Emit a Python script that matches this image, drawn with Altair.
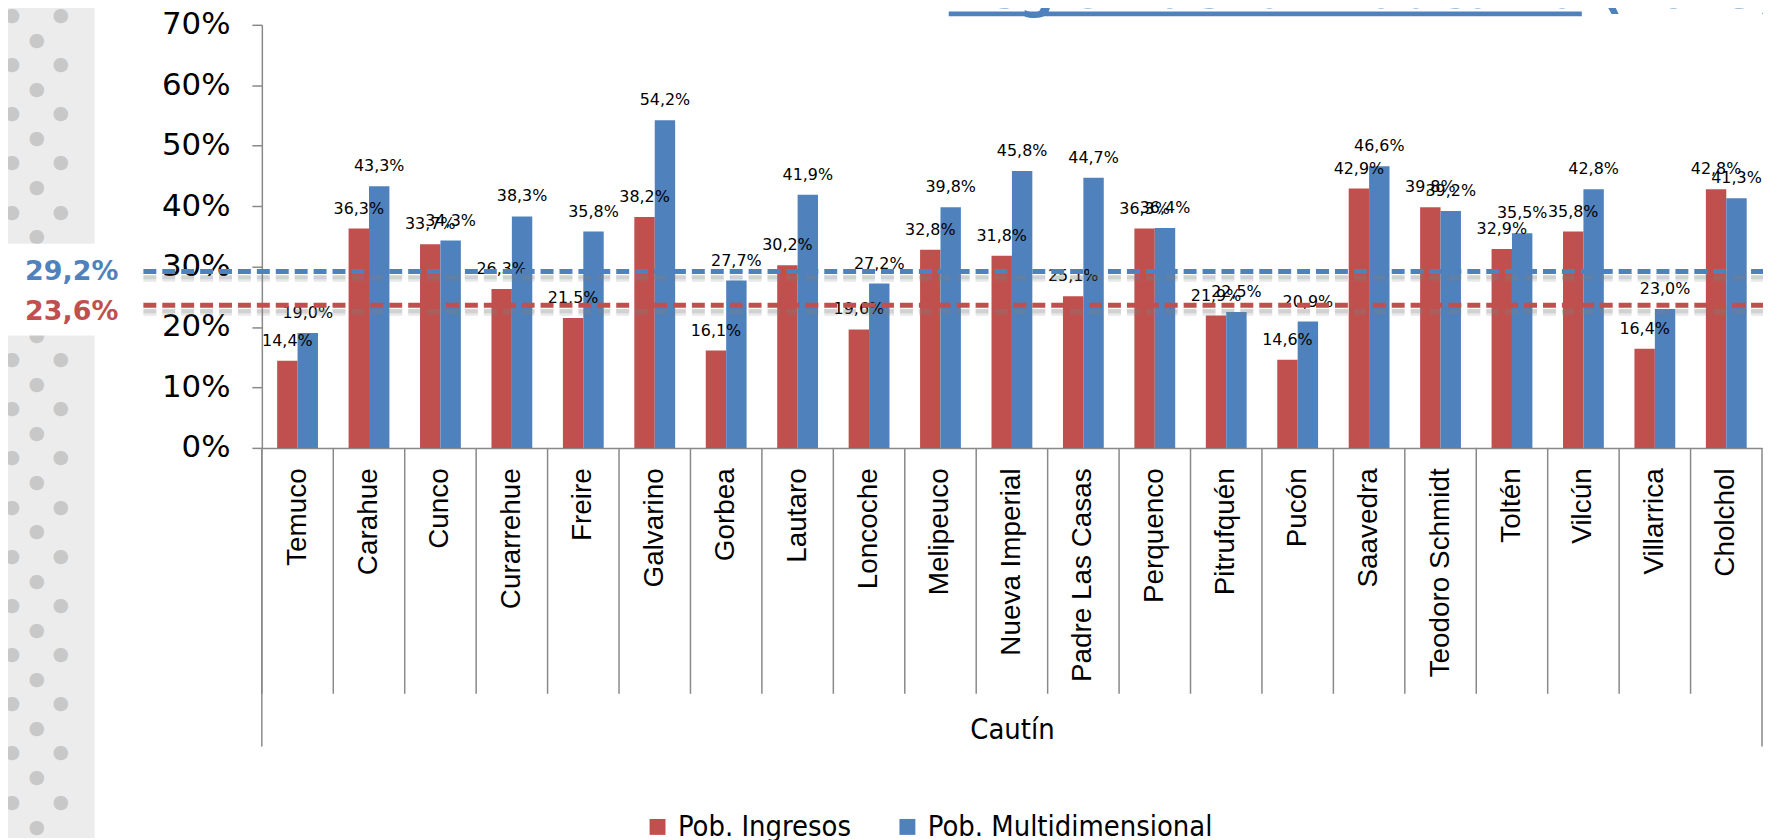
import altair as alt
import pandas as pd

# ---------------- data ----------------
comunas = ["Temuco", "Carahue", "Cunco", "Curarrehue", "Freire", "Galvarino",
           "Gorbea", "Lautaro", "Loncoche", "Melipeuco", "Nueva Imperial",
           "Padre Las Casas", "Perquenco", "Pitrufquén", "Pucón", "Saavedra",
           "Teodoro Schmidt", "Toltén", "Vilcún", "Villarrica", "Cholchol"]
pob_ingresos = [14.4, 36.3, 33.7, 26.3, 21.5, 38.2, 16.1, 30.2, 19.6, 32.8, 31.8,
                25.1, 36.3, 21.9, 14.6, 42.9, 39.8, 32.9, 35.8, 16.4, 42.8]
pob_multi = [19.0, 43.3, 34.3, 38.3, 35.8, 54.2, 27.7, 41.9, 27.2, 39.8, 45.8,
             44.7, 36.4, 22.5, 20.9, 46.6, 39.2, 35.5, 42.8, 23.0, 41.3]
series = ["Pob. Ingresos", "Pob. Multidimensional"]
colors = ["#C0504D", "#4F81BD"]
promedio_regional = [23.6, 29.2]          # Ingresos, Multidimensional
y_ticks = [0, 10, 20, 30, 40, 50, 60, 70]
provincia = "Cautín"
titulo = "Región de la Araucanía"
anio = "(2015)"

# ---------------- layout ----------------
W, H = 1507, 425
PAD_L, PAD_T, PAD_R, PAD_B = 255, 15, 1, 392
AXIS_GRAY = "#898989"


def pct(v):
    return f"{v:.1f}".replace(".", ",") + "%"


rows = []
for c, a, b in zip(comunas, pob_ingresos, pob_multi):
    rows.append({"Comuna": c, "Serie": series[0], "value": a / 100, "label": pct(a)})
    rows.append({"Comuna": c, "Serie": series[1], "value": b / 100, "label": pct(b)})
df = pd.DataFrame(rows)
one = pd.DataFrame({"a": [0]})

yscale = alt.Scale(domain=[0, 0.7], nice=False, zero=True)
xscale = alt.Scale(paddingInner=0, paddingOuter=0)

x_axis = alt.Axis(
    labelAngle=-90, labelAlign="right", labelBaseline="middle",
    labelFont="Liberation Sans", labelFontSize=28, labelColor="black",
    labelPadding=20, labelLimit=400, labelOverlap=False,
    ticks=False, tickSize=0, domainColor=AXIS_GRAY, domainWidth=1.5,
    title=provincia, titleFont="DejaVu Sans Condensed, DejaVu Sans",
    titleFontSize=29, titleFontWeight="normal", titleColor="black",
    titleY=283, titleBaseline="middle", grid=False,
)
y_axis = alt.Axis(
    values=[t / 100 for t in y_ticks], format=".0%",
    labelFont="DejaVu Sans", labelFontSize=31, labelColor="black",
    labelPadding=22, tickSize=10, tickColor=AXIS_GRAY, tickWidth=1.5,
    domainColor=AXIS_GRAY, domainWidth=1.5, grid=False, title=None,
)

XO = alt.XOffset("Serie:N", sort=series, scale=alt.Scale(paddingOuter=0.75, paddingInner=0))

# ---------------- bars, labels, separators ----------------
bars = alt.Chart(df).mark_bar().encode(
    x=alt.X("Comuna:N", sort=comunas, scale=xscale, axis=x_axis),
    xOffset=XO,
    y=alt.Y("value:Q", scale=yscale, axis=y_axis),
    color=alt.Color("Serie:N", sort=series,
                    scale=alt.Scale(domain=series, range=colors),
                    legend=alt.Legend(orient="none", legendX=383, legendY=791,
                                      direction="horizontal", title=None,
                                      symbolType="square", symbolSize=256,
                                      symbolStrokeWidth=0, symbolOpacity=1,
                                      labelFont="DejaVu Sans Condensed, DejaVu Sans",
                                      labelFontSize=29, labelColor="black",
                                      labelOffset=6, columnPadding=42, padding=0,
                                      labelLimit=400)),
)
labels = alt.Chart(df).mark_text(dy=-15, baseline="alphabetic", fontSize=16,
                                 font="DejaVu Sans", color="black").encode(
    x=alt.X("Comuna:N", sort=comunas, scale=xscale),
    xOffset=XO,
    y=alt.Y("value:Q", scale=yscale),
    text="label:N",
)
seps = alt.Chart(pd.DataFrame({"Comuna": comunas})).mark_rule(color=AXIS_GRAY, strokeWidth=1.5).encode(
    x=alt.X("Comuna:N", sort=comunas, scale=xscale, bandPosition=0),
    y=alt.value(H), y2=alt.value(H + 247),
)
outer_l = alt.Chart(one).mark_rule(color=AXIS_GRAY, strokeWidth=1.5).encode(
    x=alt.value(0), y=alt.value(H), y2=alt.value(H + 300))
outer_r = alt.Chart(one).mark_rule(color=AXIS_GRAY, strokeWidth=1.5).encode(
    x=alt.value(W), y=alt.value(H), y2=alt.value(H + 300))

# ---------------- decorations: left dotted strip ----------------
strip = alt.Chart(one).mark_rect(color="#ECECEC").encode(
    x=alt.value(-PAD_L - 8), x2=alt.value(95 - 263),
    y=alt.value(-PAD_T - 8), y2=alt.value(840 - 23),
)
DOT = "\u25CF"
dot_layers = []
for px, y0 in ((12, 18 - 49.4), (37, 43 - 49.4), (61, 18 - 49.4)):
    n = 19
    dot_layers.append(
        alt.Chart(one).mark_text(font="DejaVu Sans", fontSize=19, color="#C8C8C8",
                                 align="center", baseline="top", lineBreak="\n",
                                 lineHeight=49.4).encode(
            x=alt.value(px - 263), y=alt.value(y0 - 23 - 14),
            text=alt.value("\n".join([DOT] * n)))
    )
white_box = alt.Chart(one).mark_rect(color="white").encode(
    x=alt.value(3 - 263), x2=alt.value(143 - 263),
    y=alt.value(243 - 23), y2=alt.value(335 - 23),
)

# ---------------- regional averages ----------------
avg_layers = []
label_dy = [7, 1]
for v, c, dy in zip(promedio_regional, colors, label_dy):
    d = pd.DataFrame({"value": [v / 100], "label": [pct(v)]})
    yv = alt.Y("value:Q", scale=yscale)
    avg_layers.append(alt.Chart(d).mark_rule(strokeDash=[13, 6], strokeWidth=7, color="#808080",
                                             opacity=0.18, yOffset=7).encode(
        y=yv, x=alt.value(144 - 263), x2=alt.value(1771 - 263)))
    avg_layers.append(alt.Chart(d).mark_rule(strokeDash=[13, 6], strokeWidth=4, color="#808080",
                                             opacity=0.22, yOffset=6).encode(
        y=yv, x=alt.value(144 - 263), x2=alt.value(1771 - 263)))
    avg_layers.append(alt.Chart(d).mark_rule(strokeDash=[13, 6], strokeWidth=5, color=c).encode(
        y=yv, x=alt.value(144 - 263), x2=alt.value(1771 - 263)))
    avg_layers.append(alt.Chart(d).mark_text(fontSize=27, fontWeight="bold", font="DejaVu Sans",
                                             color=c, align="center", baseline="middle", dy=dy).encode(
        y=yv, x=alt.value(72 - 263), text="label:N"))

# ---------------- title (cut off at top) ----------------
title_text = alt.Chart(one).mark_text(align="left", baseline="alphabetic", font="DejaVu Sans",
                                      fontWeight="bold", fontSize=49, color="#4F81BD").encode(
    x=alt.value(953 - 263), y=alt.value(6 - 23), text=alt.value(titulo + " " + anio))
title_line = alt.Chart(one).mark_rule(strokeWidth=5, color="#4F81BD").encode(
    x=alt.value(953 - 263), x2=alt.value(1589 - 263), y=alt.value(12 - 23))

chart = alt.layer(
    bars, labels, seps, outer_l, outer_r, strip, *dot_layers, white_box,
    *avg_layers, title_text, title_line,
).properties(
    width=W, height=H,
    autosize=alt.AutoSizeParams(type="none"),
    padding={"left": PAD_L, "top": PAD_T, "right": PAD_R, "bottom": PAD_B},
    background="white",
).configure_view(stroke=None)

chart.save("out.html", embed_options={"renderer": "svg", "actions": False})
